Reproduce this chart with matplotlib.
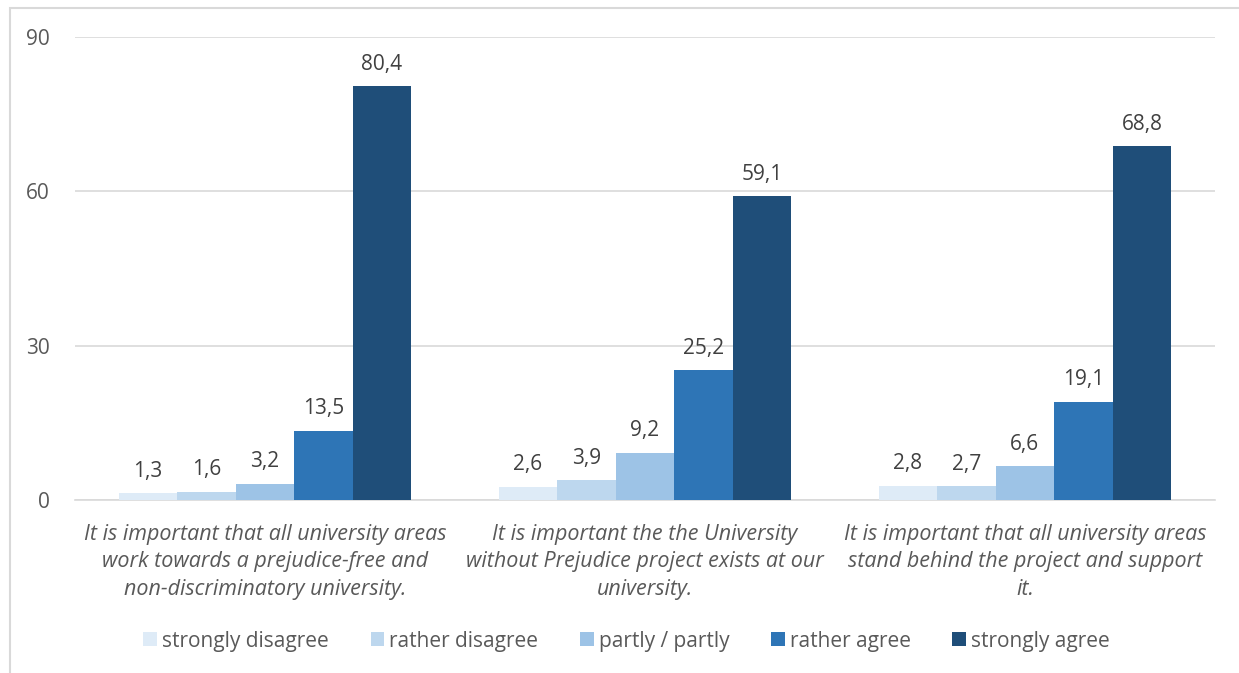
import numpy as np
import matplotlib.pyplot as plt
from matplotlib.patches import Rectangle

plt.rcParams["font.family"] = ["Open Sans", "DejaVu Sans"]

categories = [
    "It is important that all university areas\nwork towards a prejudice-free and\nnon-discriminatory university.",
    "It is important the the University\nwithout Prejudice project exists at our\nuniversity.",
    "It is important that all university areas\nstand behind the project and support\nit.",
]
series_names = ["strongly disagree", "rather disagree", "partly / partly",
                "rather agree", "strongly agree"]
strongly_disagree = [1.3, 2.6, 2.8]
rather_disagree = [1.6, 3.9, 2.7]
partly = [3.2, 9.2, 6.6]
rather_agree = [13.5, 25.2, 19.1]
strongly_agree = [80.4, 59.1, 68.8]
colors = ["#DEEBF7", "#BDD7EE", "#9DC3E6", "#2E75B6", "#1F4E79"]


def main():
    series = [strongly_disagree, rather_disagree, partly, rather_agree, strongly_agree]
    fig = plt.figure(figsize=(12.39, 6.73), dpi=100)
    ax = fig.add_axes([0.0605, 0.257, 0.92, 0.688])

    # outer chart frame
    fig.patches.append(Rectangle((10 / 1239, -0.1), 1.2, 1 - 8 / 673 + 0.1,
                                 transform=fig.transFigure, fill=False,
                                 edgecolor="#D9D9D9", linewidth=1.5))

    x = np.arange(len(categories))
    width = 0.154
    for i, (name, vals) in enumerate(zip(series_names, series)):
        pos = x + (i - 2) * width
        ax.bar(pos, vals, width, color=colors[i], label=name, zorder=3)
        for px, v in zip(pos, vals):
            ax.text(px, v + 2.2, f"{v:.1f}".replace(".", ","), ha="center",
                    va="bottom", fontsize=15, color="#404040")

    ax.set_xlim(-0.5, 2.5)
    ax.set_ylim(0, 90)
    ax.set_yticks([0, 30, 60, 90])
    ax.yaxis.grid(True, color="#D9D9D9", linewidth=1.2, zorder=0)
    for s in ["top", "right", "left"]:
        ax.spines[s].set_visible(False)
    ax.spines["bottom"].set_color("#D9D9D9")
    ax.spines["bottom"].set_linewidth(1.2)
    ax.tick_params(axis="both", length=0, labelsize=15, colors="#595959")
    ax.tick_params(axis="y", pad=18)
    ax.set_xticks(x)
    ax.set_xticklabels(categories, style="italic", fontsize=15.5,
                       color="#595959", linespacing=1.42)
    ax.tick_params(axis="x", pad=17)

    ax.legend(loc="center", bbox_to_anchor=(0.484, -0.305), ncol=5, frameon=False,
              fontsize=15, handlelength=0.65, handleheight=0.65, handletextpad=0.25,
              columnspacing=2.0, labelcolor="#595959")

    fig.savefig("out.png", dpi=100)


if __name__ == "__main__":
    main()
